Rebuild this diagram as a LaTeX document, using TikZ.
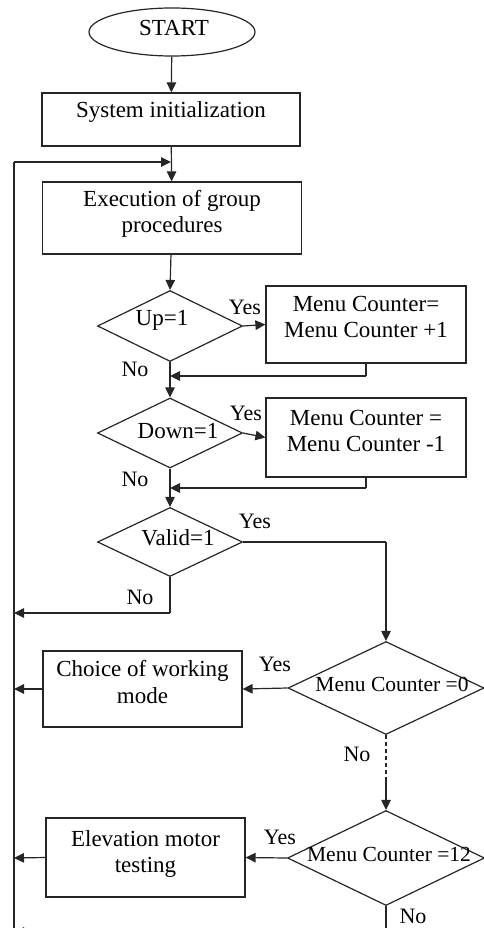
\documentclass[tikz,border=0pt]{standalone}
\usepackage{fontspec}
\setmainfont{Liberation Serif}
\usetikzlibrary{arrows.meta,shapes.geometric}
\begin{document}
\begin{tikzpicture}[x=1pt,y=-1pt,
  every node/.style={font=\fontsize{23}{26.5}\selectfont, inner sep=0pt},
  ln/.style={draw=black!85, line width=1.2pt},
  arr/.style={ln, -{Triangle[length=10pt,width=9.5pt]}},
  boxnode/.style={draw=black!85, line width=1.2pt, rectangle, minimum width=#1},
  dia/.style={draw=black!85, line width=1.2pt, diamond, inner sep=0pt},
  txt/.style={align=center},
  lab/.style={font=\fontsize{22}{24}\selectfont},
  dtxt/.style={font=\fontsize{21.5}{24}\selectfont}
]
\useasboundingbox (0,0) rectangle (484,928);

% shapes
\node[draw=black!85, line width=1.2pt, ellipse, minimum width=166pt, minimum height=48pt] (start) at (172,32) {};
\node (tstart) at (174,28) {START};

\node[boxnode=258pt, minimum height=53pt] (init) at (171,119.5) {};
\node (tinit) at (171,112) {System initialization};

\node[boxnode=259pt, minimum height=72pt] (exec) at (172,218) {};
\node[txt] (texec) at (172,214) {Execution of group\\procedures};

\node[dia, minimum width=145pt, minimum height=71pt] (up) at (170,326) {};
\node (tup) at (162,320) {Up=1};

\node[boxnode=200pt, minimum height=77pt] (b1) at (366,324.5) {};
\node[txt] (tb1) at (366,317) {Menu Counter=\\Menu Counter +1};

\node[dia, minimum width=145pt, minimum height=70pt] (down) at (170,433) {};
\node (tdown) at (178,431) {Down=1};

\node[boxnode=200pt, minimum height=79pt] (b2) at (366,437.5) {};
\node[txt] (tb2) at (366,431) {Menu Counter =\\Menu Counter -1};

\node[dia, minimum width=145pt, minimum height=69pt] (valid) at (170,542) {};
\node (tvalid) at (178,538) {Valid=1};

\node[dia, minimum width=196pt, minimum height=93pt] (m0) at (386,688) {};
\node[dtxt] (tm0) at (392,684) {Menu Counter =0};

\node[boxnode=199pt, minimum height=76pt] (choice) at (142.5,689) {};
\node[txt] (tchoice) at (142.5,682) {Choice of working\\mode};

\node[dia, minimum width=197pt, minimum height=95pt] (m12) at (386,858) {};
\node[dtxt] (tm12) at (389,854) {Menu Counter =12};

\node[boxnode=199pt, minimum height=79pt] (elev) at (145.5,857.5) {};
\node[txt] (telev) at (145.5,854) {Elevation motor\\testing};

% coordinates
\coordinate (ltop) at (14,162);
\coordinate (lbot) at (14,940);
\coordinate (j0) at (init.south |- ltop);
\coordinate (j1) at (b1.south |- 0,376);
\coordinate (j1l) at (up.south |- 0,376);
\coordinate (j2) at (b2.south |- 0,488);
\coordinate (j2l) at (down.south |- 0,488);
\coordinate (vr) at (m0.north |- valid.east);
\coordinate (vn) at (valid.south |- 0,613);
\coordinate (vnl) at (14,613);
\coordinate (cl) at (14,689);
\coordinate (el) at (14,858);
\coordinate (dm) at (386,780);
\coordinate (m12b) at (386,940);
\coordinate (bb) at (45,932);
\coordinate (bbl) at (14,932);

% connectors
\draw[arr] (start) -- (init);
\draw[arr] (init) -- (exec);
\draw[ln] (lbot) -- (ltop);
\draw[arr] (ltop) -- (j0);
\draw[arr] (exec) -- (up.north);
\draw[arr] (up.east) -- (b1.west);
\draw[arr] (up.south) -- (down.north);
\draw[ln] (b1.south) -- (j1);
\draw[arr] (j1) -- (j1l);
\draw[arr] (down.east) -- (b2.west);
\draw[arr] (down.south) -- (valid.north);
\draw[ln] (b2.south) -- (j2);
\draw[arr] (j2) -- (j2l);
\draw[ln] (valid.east) -- (vr);
\draw[arr] (vr) -- (m0.north);
\draw[ln] (valid.south) -- (vn);
\draw[arr] (vn) -- (vnl);
\draw[arr] (m0.west) -- (choice.east);
\draw[arr] (choice.west) -- (cl);
\draw[ln, dash pattern=on 4pt off 3pt] (m0.south) -- (dm);
\draw[arr] (dm) -- (m12.north);
\draw[arr] (m12.west) -- (elev.east);
\draw[arr] (elev.west) -- (el);
\draw[ln] (m12.south) -- (m12b);
\draw[arr] (bb) -- (bbl);

% labels
\node[lab] (y1) at (245,307) {Yes};
\node[lab] (n1) at (135,369) {No};
\node[lab] (y2) at (246,413) {Yes};
\node[lab] (n2) at (135,479) {No};
\node[lab] (y3) at (255,521) {Yes};
\node[lab] (n3) at (140,597) {No};
\node[lab] (y4) at (275,664) {Yes};
\node[lab] (n4) at (357,754) {No};
\node[lab] (y5) at (280,837) {Yes};
\node[lab] (n5) at (413,916) {No};
\end{tikzpicture}
\end{document}
